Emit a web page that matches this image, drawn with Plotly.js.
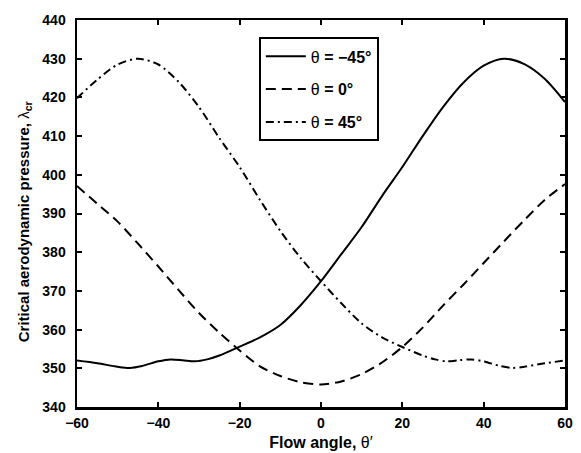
<!DOCTYPE html>
<html>
<head>
<meta charset="utf-8">
<script src="https://cdn.plot.ly/plotly-3.0.1.min.js"></script>
<style>html,body{margin:0;padding:0;background:#fff;}#chart{width:581px;height:453px;}</style>
</head>
<body>
<div id="chart"></div>
<script>
// Flow angle samples (degrees)
const xNeg45 = [-60,-55,-50,-47,-44,-40,-37,-34,-31,-28,-25,-20,-15,-10,-5,0,5,10,15,20,25,30,35,40,45,50,55,60];
const yNeg45 = [352,351.3,350.4,350.1,350.6,351.8,352.3,352.1,351.8,352.3,353.3,355.6,358,361.2,366.3,372.5,379.5,386.5,394.5,402,410,417.5,423.8,428.2,430,428.6,424.8,418.8];

const xZero = [-60,-55,-50,-45,-40,-35,-30,-25,-20,-15,-10,-5,0,5,10,15,20,25,30,35,40,45,50,55,60];
const yZero = [397.1,392.5,387.9,382.2,376.3,370.2,364.3,359.2,354.6,350.5,348,346.4,345.8,346.6,348.5,351.5,355.5,360.5,366.2,371.6,377.2,382.8,388.3,393.5,397.6];

const xPos45 = [-60,-55,-50,-45,-40,-35,-30,-25,-20,-15,-10,-5,0,5,10,15,20,25,28,31,34,37,40,44,47,50,55,60];
const yPos45 = [419.8,424.6,428.5,430,428.5,424,417.5,409.5,402,393.5,385.5,378.5,372.5,366.8,361.6,358,355.5,353.3,352.3,351.8,352.1,352.3,351.8,350.6,350.1,350.4,351.3,352];

const legendNames = ['θ <b>= −45°</b>', 'θ <b>= 0°</b>', 'θ <b>= 45°</b>'];
const xTicks = [-60,-40,-20,0,20,40,60];
const yTicks = [340,350,360,370,380,390,400,410,420,430,440];

const traces = [
  {x:xNeg45, y:yNeg45, name:legendNames[0], legendgroup:'a', mode:'lines', line:{color:'#000', width:2, shape:'spline', smoothing:0.8, dash:'solid'}},
  {x:xZero, y:yZero, name:legendNames[1], legendgroup:'b', mode:'lines', line:{color:'#000', width:2, shape:'spline', smoothing:0.8, dash:'10px,6px'}},
  {x:xPos45, y:yPos45, name:legendNames[2], legendgroup:'c', mode:'lines', line:{color:'#000', width:2, shape:'spline', smoothing:0.8, dash:'8px,4px,2px,4px'}}
];

const axisCommon = {
  showgrid:false, zeroline:false, showline:true, linecolor:'#000', linewidth:2.5,
  mirror:'ticks', ticks:'inside', ticklen:5, tickwidth:2, tickcolor:'#000',
  tickfont:{family:'Liberation Sans, Arial, sans-serif', size:14, color:'#000', weight:'bold'}
};

const layout = {
  width:581, height:453,
  margin:{l:77, r:16, t:20, b:46},
  paper_bgcolor:'#fff', plot_bgcolor:'#fff',
  font:{family:'Liberation Sans, Arial, sans-serif', color:'#000'},
  showlegend:true,
  legend:{
    x:0.3726, y:0.955, xanchor:'left', yanchor:'top',
    bgcolor:'#fff', bordercolor:'#000', borderwidth:2,
    traceorder:'grouped', tracegroupgap:9, itemwidth:40,
    font:{family:'Liberation Sans, Arial, sans-serif', size:16, color:'#000'}
  },
  xaxis: Object.assign({}, axisCommon, {
    range:[-60,60], tickvals:xTicks, ticktext:xTicks.map(v=>v<0?'−'+Math.abs(v):String(v)),
    ticklabelstandoff:2,
    title:{text:'<b>Flow angle, </b>θ′', font:{size:16, color:'#000'}, standoff:7}
  }),
  yaxis: Object.assign({}, axisCommon, {
    range:[340,440], tickvals:yTicks,
    ticklabelstandoff:6,
    title:{text:'<b>Critical aerodynamic pressure, </b>λ<sub><b>cr</b></sub>' + '&nbsp;'.repeat(4), font:{size:15, color:'#000'}, standoff:9}
  })
};

Plotly.newPlot('chart', traces, layout, {displayModeBar:false, staticPlot:true});
</script>
</body>
</html>
